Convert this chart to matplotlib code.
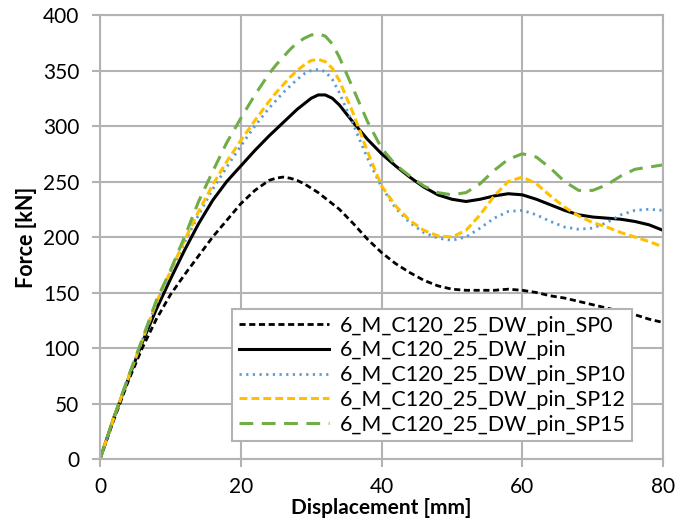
import matplotlib
matplotlib.use("Agg")
import matplotlib.pyplot as plt

plt.rcParams['font.family'] = ['Lato', 'DejaVu Sans']

# displacement [mm] sample points
x_pts = [0, 2, 4, 6, 8, 10, 12, 14, 16, 18, 20, 22, 24, 25, 26, 27, 28, 29, 30, 31, 32, 33,
         34, 36, 38, 40, 42, 44, 46, 48, 50, 52, 54, 56, 58, 60, 62, 64, 66, 68, 70, 72, 74,
         76, 78, 80]

sp0 = [0, 36, 70, 100, 126, 148, 166, 183, 200, 215, 230, 242, 251, 253, 254, 253, 251, 248,
       244, 240, 235, 230, 225, 212, 198, 186, 176, 168, 161, 156, 153, 152, 152, 152, 153,
       152, 150, 147, 145, 142, 139, 136, 133, 130, 126, 123]
pin = [0, 38, 72, 105, 135, 162, 188, 212, 233, 250, 264, 278, 291, 297, 303, 309, 315, 320,
       325, 328, 328, 325, 319, 303, 288, 275, 264, 254, 245, 238, 234, 232, 234, 237, 239,
       238, 234, 229, 224, 220, 218, 217, 216, 214, 211, 206]
sp10 = [0, 38, 73, 107, 140, 168, 195, 220, 243, 263, 282, 300, 316, 323, 330, 336, 342, 347,
        350, 351, 349, 342, 330, 301, 271, 245, 226, 213, 204, 199, 197, 200, 208, 217, 223,
        224, 220, 214, 209, 207, 208, 213, 220, 224, 225, 224]
sp12 = [0, 38, 73, 107, 141, 169, 197, 223, 247, 268, 287, 305, 322, 330, 337, 344, 350, 355,
        359, 360, 358, 352, 341, 311, 277, 246, 228, 215, 206, 201, 200, 206, 220, 237, 250,
        254, 248, 237, 227, 219, 213, 209, 204, 200, 196, 191]
sp15 = [0, 38, 74, 108, 143, 170, 200, 232, 259, 285, 307, 328, 347, 355, 362, 369, 375, 379,
        382, 383, 381, 374, 362, 333, 304, 280, 265, 255, 246, 240, 238, 240, 248, 260, 270,
        275, 272, 262, 250, 242, 242, 247, 255, 261, 263, 265]

labels = ['6_M_C120_25_DW_pin_SP0', '6_M_C120_25_DW_pin', '6_M_C120_25_DW_pin_SP10',
          '6_M_C120_25_DW_pin_SP12', '6_M_C120_25_DW_pin_SP15']

fig = plt.figure(figsize=(6.9, 5.25), dpi=100)
ax = fig.add_axes([0.145, 0.1257, 0.816, 0.8457])

grid_c = '#b3b3b3'
ax.plot(x_pts, sp0, color='black', lw=2.0, ls=(0, (2.2, 1.3)), label=labels[0])
ax.plot(x_pts, pin, color='black', lw=2.2, ls='-', label=labels[1])
ax.plot(x_pts, sp10, color='#5B9BD5', lw=2.0, ls=(0, (0.8, 1.6)), label=labels[2])
ax.plot(x_pts, sp12, color='#FFC000', lw=2.2, ls=(0, (2.6, 1.3)), label=labels[3])
ax.plot(x_pts, sp15, color='#70AD47', lw=2.2, ls=(0, (4.5, 2.8)), label=labels[4])

ax.set_xlim(0, 80)
ax.set_ylim(0, 400)
ax.set_xticks(range(0, 81, 20))
ax.set_yticks(range(0, 401, 50))
ax.grid(True, color=grid_c, lw=1.5)
ax.set_axisbelow(True)
for s in ax.spines.values():
    s.set_color(grid_c)
    s.set_linewidth(1.5)
ax.tick_params(direction='out', length=6, width=1.5, color=grid_c, labelsize=15)
ax.tick_params(axis='y', pad=9)
ax.tick_params(axis='x', pad=7)

ax.set_xlabel('Displacement [mm]', fontsize=15, fontweight='bold', labelpad=1)
ax.set_ylabel('Force [kN]', fontsize=15.5, fontweight='bold', labelpad=4)

leg = ax.legend(loc='lower right', bbox_to_anchor=(0.9645, 0.016), fontsize=15.5,
                handlelength=4.2, frameon=True, fancybox=False, framealpha=1,
                edgecolor=grid_c, borderpad=0.3, labelspacing=0.22, handletextpad=0.5)
leg.get_frame().set_linewidth(1.5)

fig.savefig('out.png', dpi=100)
